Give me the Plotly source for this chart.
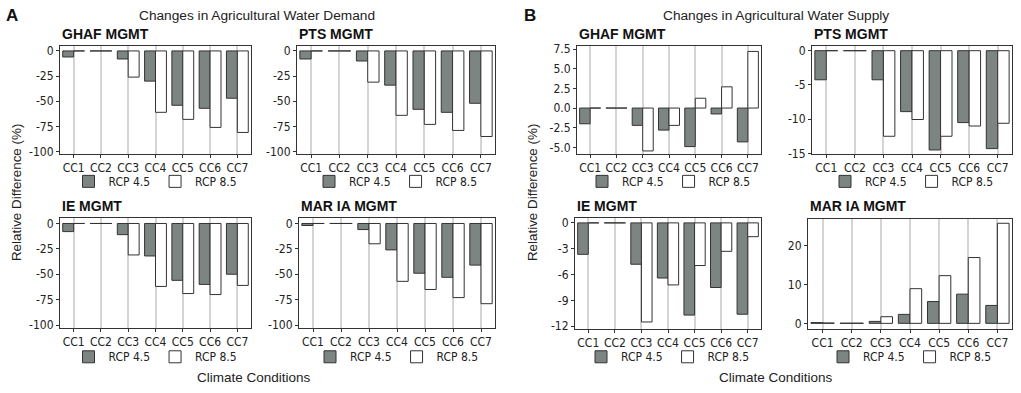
import plotly.graph_objects as go

W, H = 1021, 393

categories = ["CC1", "CC2", "CC3", "CC4", "CC5", "CC6", "CC7"]
series_names = ["RCP 4.5", "RCP 8.5"]

# Changes in Agricultural Water Demand (A)
demand_ghaf_45 = [-6, 0, -8, -30, -54, -57, -47]
demand_ghaf_85 = [0, 0, -26, -61, -68, -76, -81]
demand_pts_45 = [-8, 0, -10, -34, -58, -61, -52]
demand_pts_85 = [0, 0, -31, -64, -73, -79, -85]
demand_ie_45 = [-8, 0, -11, -32, -56, -60, -50]
demand_ie_85 = [0, 0, -31, -62, -69, -70, -61]
demand_mar_45 = [-2, 0, -6, -26, -49, -53, -41]
demand_mar_85 = [0, 0, -20, -57, -65, -73, -79]

# Changes in Agricultural Water Supply (B)
supply_ghaf_45 = [-2.0, 0, -2.2, -2.8, -4.9, -0.75, -4.3]
supply_ghaf_85 = [0, 0, -5.45, -2.2, 1.25, 2.7, 7.2]
supply_pts_45 = [-4.25, 0, -4.25, -8.9, -14.5, -10.5, -14.3]
supply_pts_85 = [0, 0, -12.5, -10.05, -12.5, -11.0, -10.6]
supply_ie_45 = [-3.65, 0, -4.8, -6.4, -10.7, -7.5, -10.6]
supply_ie_85 = [0, 0, -11.5, -7.2, -4.95, -3.3, -1.6]
supply_mar_45 = [0.2, 0.05, 0.5, 2.3, 5.6, 7.5, 4.6]
supply_mar_85 = [0.1, 0.05, 1.7, 8.9, 12.25, 16.9, 25.7]

panel_titles = ["GHAF MGMT", "PTS MGMT", "IE MGMT", "MAR IA MGMT"] * 2
panel_data = [
    (demand_ghaf_45, demand_ghaf_85), (demand_pts_45, demand_pts_85),
    (demand_ie_45, demand_ie_85), (demand_mar_45, demand_mar_85),
    (supply_ghaf_45, supply_ghaf_85), (supply_pts_45, supply_pts_85),
    (supply_ie_45, supply_ie_85), (supply_mar_45, supply_mar_85),
]

demand_ticks = [0, -25, -50, -75, -100]
demand_text = ["0", "-25", "-50", "-75", "-100"]
tick_sets = [
    (demand_ticks, demand_text), (demand_ticks, demand_text),
    (demand_ticks, demand_text), (demand_ticks, demand_text),
    ([7.5, 5, 2.5, 0, -2.5, -5], ["7.5", "5.0", "2.5", "0.0", "-2.5", "-5.0"]),
    ([0, -5, -10, -15], ["0", "-5", "-10", "-15"]),
    ([0, -3, -6, -9, -12], ["0", "-3", "-6", "-9", "-12"]),
    ([0, 10, 20], ["0", "10", "20"]),
]
y_ranges = [
    [-102.5, 5], [-102.5, 5], [-102.5, 5], [-102.5, 5],
    [-5.85, 7.9], [-15.1, 0.7], [-12.26, 0.52], [-1.33, 26.7],
]

# panel boxes in pixels: (x0, x1, y0_top, y1_bottom)
boxes = [
    (60, 251, 43, 154), (297, 495, 43, 154),
    (60, 251, 220, 332), (299, 495, 220, 332),
    (577, 761, 43, 154), (812, 1012, 43, 154),
    (575, 761, 220, 333), (808, 1012, 221, 333),
]

FONT = "Liberation Sans, Arial, sans-serif"
NARROW = "Liberation Sans Narrow, Arial Narrow, DejaVu Sans Condensed, Liberation Sans, sans-serif"
GRAY = "#7d8582"
EDGE = "#333333"

fig = go.Figure()
layout = dict(
    width=W, height=H, margin=dict(l=0, r=0, t=0, b=0),
    paper_bgcolor="white", plot_bgcolor="white",
    barmode="group", bargap=0.2, bargroupgap=0,
    font=dict(family=FONT, size=11, color="#222"),
    showlegend=True,
)

annotations = []
for i, ((v45, v85), (x0, x1, yt, yb)) in enumerate(zip(panel_data, boxes)):
    n = i + 1
    xa = "x" if n == 1 else f"x{n}"
    ya = "y" if n == 1 else f"y{n}"
    lg = "legend" if n == 1 else f"legend{n}"
    fig.add_trace(go.Bar(x=categories, y=v45, name=series_names[0],
                         marker=dict(color=GRAY, line=dict(color=EDGE, width=1)),
                         xaxis=xa, yaxis=ya, legend=lg))
    fig.add_trace(go.Bar(x=categories, y=v85, name=series_names[1],
                         marker=dict(color="white", line=dict(color=EDGE, width=1)),
                         xaxis=xa, yaxis=ya, legend=lg))
    xkey = "xaxis" if n == 1 else f"xaxis{n}"
    ykey = "yaxis" if n == 1 else f"yaxis{n}"
    tv, tt = tick_sets[i]
    layout[xkey] = dict(
        domain=[x0 / W, x1 / W], anchor=ya, type="category",
        showgrid=True, gridcolor="#d4d4d4", gridwidth=1.5,
        showline=True, linecolor=EDGE, linewidth=1, mirror=True,
        ticks="outside", ticklen=3, tickcolor=EDGE,
        tickfont=dict(family=NARROW, size=12, color="#222"), zeroline=False,
    )
    layout[ykey] = dict(
        domain=[1 - yb / H, 1 - yt / H], anchor=xa, range=y_ranges[i],
        showgrid=False, zeroline=False,
        showline=True, linecolor=EDGE, linewidth=1, mirror=True,
        ticks="outside", ticklen=3, tickcolor=EDGE,
        tickvals=tv, ticktext=tt,
        tickfont=dict(family=NARROW, size=12, color="#222"),
    )
    ly = 182 if yt < 100 else 362
    layout[lg] = dict(
        orientation="h", x=(x0 + x1) / 2 / W, y=1 - ly / H,
        xanchor="center", yanchor="middle",
        font=dict(family=NARROW, size=12, color="#222"),
        bgcolor="rgba(0,0,0,0)", itemwidth=30, tracegroupgap=0,
    )
    annotations.append(dict(
        text=f"<b>{panel_titles[i]}</b>", x=x0 / W, y=1 - (31 if yt < 100 else 207) / H,
        xanchor="left", yanchor="middle", font=dict(size=14, color="#111"),
    ))

# Panel letters and headers
annotations += [
    dict(text="<b>A</b>", x=12 / W, y=1 - 12 / H, xanchor="center", yanchor="middle",
         font=dict(size=17, color="#111")),
    dict(text="<b>B</b>", x=530 / W, y=1 - 12 / H, xanchor="center", yanchor="middle",
         font=dict(size=17, color="#111")),
    dict(text="Changes in Agricultural Water Demand", x=257 / W, y=1 - 12 / H,
         xanchor="center", yanchor="middle", font=dict(size=13.7, color="#222")),
    dict(text="Changes in Agricultural Water Supply", x=776 / W, y=1 - 12 / H,
         xanchor="center", yanchor="middle", font=dict(size=13.7, color="#222")),
    dict(text="Relative Difference (%)", x=16 / W, y=1 - 194 / H, textangle=-90,
         xanchor="center", yanchor="middle", font=dict(size=13.4, color="#222")),
    dict(text="Relative Difference (%)", x=532 / W, y=1 - 194 / H, textangle=-90,
         xanchor="center", yanchor="middle", font=dict(size=13.4, color="#222")),
    dict(text="Climate Conditions", x=254 / W, y=1 - 383 / H,
         xanchor="center", yanchor="middle", font=dict(size=13.5, color="#222")),
    dict(text="Climate Conditions", x=776 / W, y=1 - 383 / H,
         xanchor="center", yanchor="middle", font=dict(size=13.5, color="#222")),
]
for a in annotations:
    a.setdefault("xref", "paper")
    a.setdefault("yref", "paper")
    a.setdefault("showarrow", False)
layout["annotations"] = annotations

fig.update_layout(**layout)
fig.write_html(
    "out.html",
    config={"displayModeBar": False},
    post_script="document.body.style.margin='0';document.body.style.overflow='hidden';",
)
